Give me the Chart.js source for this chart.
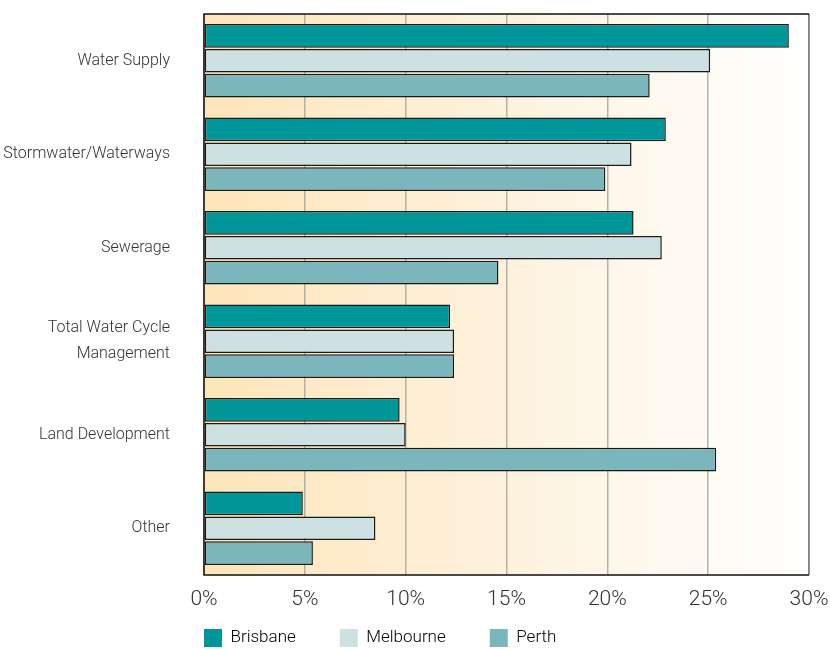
<!DOCTYPE html>
<html lang="en">
<head>
  <meta charset="UTF-8">
  <title>Share of work by sector</title>
  <script src="https://cdn.jsdelivr.net/npm/chart.js"></script>
  <style>
    html, body { margin: 0; padding: 0; background: #fff; }
    .wrap { width: 830px; height: 649px; position: relative; }
  </style>
</head>
<body>
  <div class="wrap"><canvas id="chart"></canvas></div>
  <script>
    const categories = ['Water Supply', 'Stormwater/Waterways', 'Sewerage', ['Total Water Cycle', 'Management'], 'Land Development', 'Other'];
    const brisbane = [29.0, 22.9, 21.3, 12.2, 9.7, 4.9];
    const melbourne = [25.1, 21.2, 22.7, 12.4, 10.0, 8.5];
    const perth = [22.1, 19.9, 14.6, 12.4, 25.4, 5.4];
    const xTicks = [0, 5, 10, 15, 20, 25, 30];

    const FONT = "Roboto, 'Liberation Sans', sans-serif";
    const LEGEND_GAP = 44;

    // warm gradient behind the plot plus frame lines
    const plotBackground = {
      id: 'plotBackground',
      beforeDraw(chart) {
        const { ctx, chartArea: a } = chart;
        const g = ctx.createLinearGradient(a.left, 0, a.right, 0);
        g.addColorStop(0, '#fde5b9');
        g.addColorStop(0.5, '#fef2de');
        g.addColorStop(1, '#ffffff');
        ctx.save();
        ctx.fillStyle = g;
        ctx.fillRect(a.left, a.top, a.right - a.left, a.bottom - a.top);
        ctx.restore();
      },
      afterDatasetsDraw(chart) {
        const { ctx, chartArea: a } = chart;
        ctx.save();
        ctx.lineWidth = 1.5;
        ctx.strokeStyle = '#777';
        ctx.beginPath();
        ctx.moveTo(a.right, a.top);
        ctx.lineTo(a.right, a.bottom);
        ctx.stroke();
        ctx.strokeStyle = '#111';
        ctx.beginPath();
        ctx.moveTo(a.right, a.top);
        ctx.lineTo(a.left, a.top);
        ctx.lineTo(a.left, a.bottom);
        ctx.lineTo(a.right, a.bottom);
        ctx.stroke();
        ctx.restore();
      }
    };

    // put the legend row under the plot's left edge (legend clips to its own box)
    const legendShift = {
      id: 'legendShift',
      afterLayout(chart) {
        const lg = chart.legend;
        const dx = chart.chartArea.left - LEGEND_GAP - lg.left;
        lg.left += dx;
        lg.right += dx;
        const top = chart.chartArea.bottom + 54 - LEGEND_GAP;
        lg.top = top;
        lg.bottom = chart.height;
        lg.height = lg.bottom - top;
      }
    };

    const ds = (label, data, color) => ({
      label, data,
      backgroundColor: color,
      borderColor: '#1a1a1a',
      borderWidth: 1.5,
      borderSkipped: false,
      categoryPercentage: 0.8,
      barPercentage: 0.95
    });

    new Chart(document.getElementById('chart'), {
      type: 'bar',
      data: {
        labels: categories,
        datasets: [
          ds('Brisbane', brisbane, '#00979a'),
          ds('Melbourne', melbourne, '#cde0e2'),
          ds('Perth', perth, '#7ab6bc')
        ]
      },
      options: {
        indexAxis: 'y',
        responsive: true,
        maintainAspectRatio: false,
        animation: false,
        layout: { padding: { top: 14, right: 0, left: 0, bottom: 8 } },
        scales: {
          x: {
            min: 0, max: 30,
            afterBuildTicks: s => { s.ticks = xTicks.map(v => ({ value: v })); },
            grid: { color: '#b5b0a8', lineWidth: 1.5, drawTicks: false },
            border: { display: false },
            ticks: {
              padding: 12,
              color: '#333',
              font: { family: FONT, size: 21, weight: 300 },
              callback: v => v + '%'
            },
            afterFit: s => { s.height = 46; s.paddingLeft = 0; s.paddingRight = 21; }
          },
          y: {
            grid: { display: false, drawTicks: false },
            border: { display: false },
            ticks: {
              padding: 34,
              color: '#333',
              font: { family: FONT, size: 16, weight: 300, lineHeight: 1.65 }
            },
            afterFit: s => { s.width = 204; s.paddingTop = 0; s.paddingBottom = 0; }
          }
        },
        plugins: {
          legend: {
            position: 'bottom',
            align: 'start',
            maxHeight: 20,
            labels: {
              boxWidth: 18,
              boxHeight: 18,
              padding: LEGEND_GAP,
              color: '#333',
              font: { family: FONT, size: 17, weight: 300 },
              generateLabels: chart => chart.data.datasets.map((d, i) => ({
                text: d.label,
                fillStyle: d.backgroundColor,
                strokeStyle: d.backgroundColor,
                lineWidth: 0,
                datasetIndex: i
              }))
            }
          },
          tooltip: { enabled: false }
        }
      },
      plugins: [plotBackground, legendShift]
    });
  </script>
</body>
</html>
